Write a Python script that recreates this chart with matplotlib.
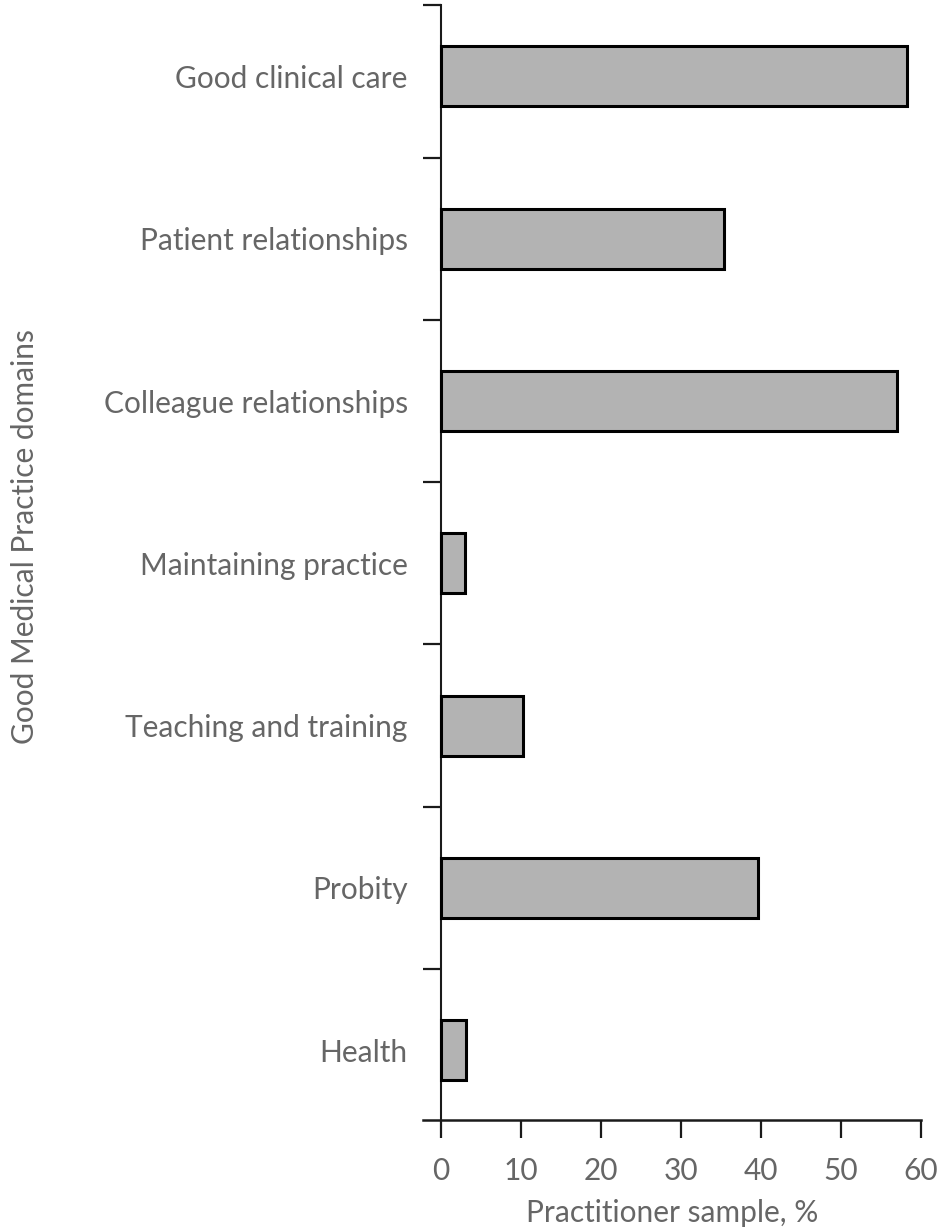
import numpy as np
import matplotlib.pyplot as plt

domains = ["Good clinical care", "Patient relationships", "Colleague relationships",
           "Maintaining practice", "Teaching and training", "Probity", "Health"]
sample_pct = [58.3, 35.4, 57.0, 3.0, 10.3, 39.6, 3.1]
x_ticks = [0, 10, 20, 30, 40, 50, 60]

TXT = "#666666"
FS = 21.5
plt.rcParams['font.family'] = ['Lato', 'DejaVu Sans']

fig = plt.figure(figsize=(9.39, 12.31), dpi=100)
ax = fig.add_axes([0.4505, 0.0902, 0.9808 - 0.4505, 0.9959 - 0.0902])

pos = np.arange(len(domains))
ax.barh(pos, sample_pct, height=0.37, color="#b3b3b3", edgecolor="black", linewidth=2.2, zorder=3)

ax.set_xlim(-2.25, 60)
ax.set_ylim(6.43, -0.44)

# spines: y axis at x=0, x axis running a bit left of it
for s in ["top", "right"]:
    ax.spines[s].set_visible(False)
ax.spines["left"].set_position(("data", 0))
ax.spines["left"].set_linewidth(1.5)
ax.spines["bottom"].set_linewidth(1.8)
ax.spines["left"].set_color("#1a1a1a")
ax.spines["bottom"].set_color("#1a1a1a")

# category labels without ticks, separator ticks between categories
ax.set_yticks(pos)
ax.set_yticklabels(domains, fontsize=FS, color=TXT)
ax.tick_params(axis="y", which="major", length=0, pad=24)
ax.set_yticks([-0.44] + list(pos[:-1] + 0.5), minor=True)
ax.tick_params(axis="y", which="minor", length=13, width=1.6, color="#1a1a1a", direction="out")

ax.set_xticks(x_ticks)
ax.set_xticklabels([str(v) for v in x_ticks], fontsize=FS, color=TXT)
ax.tick_params(axis="x", length=13, width=1.6, color="#1a1a1a", pad=14)

ax.set_xlabel("Practitioner sample, %", fontsize=FS, color=TXT, labelpad=10)
ax.text(-0.80, 0.523, "Good Medical Practice domains", transform=ax.transAxes, rotation=90,
        ha="center", va="center", fontsize=FS, color=TXT)

plt.savefig("out.png", dpi=100)
